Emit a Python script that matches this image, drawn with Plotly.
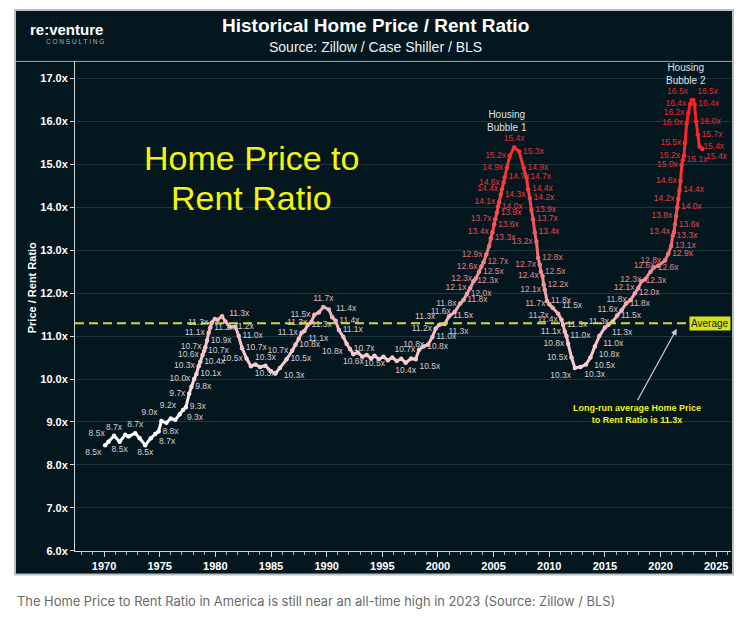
import plotly.graph_objects as go

# ---------------- data ----------------
YEARS = [
    1970.1, 1970.4, 1970.9, 1971.4, 1971.9, 1972.2, 1972.8, 1973.2, 1973.7, 1974.2,
    1974.6, 1974.9, 1975.15, 1975.6, 1976.0, 1976.4, 1976.8, 1977.1, 1977.35, 1977.65,
    1977.85, 1978.1, 1978.3, 1978.5, 1978.65, 1978.85, 1979.0, 1979.1, 1979.25, 1979.4,
    1979.55, 1979.7, 1979.95, 1980.2, 1980.6, 1980.9, 1981.3, 1981.8, 1982.1, 1982.4,
    1982.8, 1983.2, 1983.6, 1984.0, 1984.5, 1985.0, 1985.4, 1985.8, 1986.4, 1986.9,
    1987.2, 1987.5, 1987.75, 1988.0, 1988.3, 1988.6, 1988.9, 1989.3, 1989.7, 1990.2,
    1990.5, 1990.8, 1991.1, 1991.5, 1991.8, 1992.1, 1992.4, 1992.8, 1993.2, 1993.6,
    1994.0, 1994.3, 1994.7, 1995.1, 1995.5, 1995.9, 1996.3, 1996.7, 1997.1, 1997.6,
    1998.0, 1998.3, 1998.7, 1999.1, 1999.5, 1999.8, 2000.1, 2000.6, 2001.0, 2001.5,
    2002.0, 2002.3, 2002.6, 2002.9, 2003.2, 2003.4, 2003.7, 2003.9, 2004.1, 2004.35,
    2004.6, 2004.75, 2004.9, 2005.05, 2005.15, 2005.3, 2005.4, 2005.5, 2005.65, 2005.75,
    2005.9, 2006.0, 2006.2, 2006.45, 2006.85, 2007.3, 2007.7, 2007.95, 2008.1, 2008.25,
    2008.4, 2008.55, 2008.7, 2008.85, 2009.0, 2009.15, 2009.25, 2009.4, 2009.5, 2009.6,
    2009.8, 2010.0, 2010.3, 2010.8, 2011.1, 2011.25, 2011.4, 2011.55, 2011.7, 2012.0,
    2012.3, 2012.8, 2013.3, 2013.7, 2014.1, 2014.5, 2015.0, 2015.3, 2015.7, 2016.1,
    2016.5, 2016.9, 2017.3, 2017.7, 2018.0, 2018.3, 2018.6, 2019.1, 2019.4, 2019.8,
    2020.4, 2020.7, 2020.95, 2021.1, 2021.2, 2021.3, 2021.4, 2021.5, 2021.6, 2021.7,
    2021.8, 2021.9, 2022.0, 2022.1, 2022.2, 2022.35, 2022.5, 2022.65, 2022.8, 2022.95,
    2023.05, 2023.2, 2023.35, 2023.5, 2023.75,
]
RATIO = [
    8.46, 8.54, 8.68, 8.54, 8.70, 8.66, 8.74, 8.62, 8.46, 8.62,
    8.72, 8.78, 9.02, 8.98, 9.08, 9.05, 9.18, 9.28, 9.34, 9.66,
    9.82, 10.0, 10.12, 10.3, 10.4, 10.56, 10.66, 10.74, 10.9, 11.08,
    11.2, 11.32, 11.4, 11.38, 11.46, 11.34, 11.22, 11.22, 11.0, 10.72,
    10.48, 10.3, 10.34, 10.28, 10.31, 10.18, 10.13, 10.26, 10.46, 10.66,
    10.8, 10.94, 11.08, 11.12, 11.26, 11.32, 11.5, 11.55, 11.68, 11.62,
    11.44, 11.36, 11.14, 10.98, 10.82, 10.7, 10.58, 10.62, 10.52, 10.56,
    10.48, 10.54, 10.46, 10.52, 10.44, 10.5, 10.42, 10.47, 10.38, 10.48,
    10.46, 10.68, 10.76, 10.8, 10.98, 11.18, 11.26, 11.28, 11.46, 11.56,
    11.76, 11.84, 11.98, 12.12, 12.28, 12.34, 12.5, 12.62, 12.72, 12.9,
    13.1, 13.28, 13.42, 13.6, 13.72, 13.88, 14.02, 14.12, 14.3, 14.42,
    14.58, 14.7, 14.92, 15.2, 15.4, 15.3, 14.92, 14.7, 14.42, 14.22,
    13.94, 13.72, 13.42, 13.2, 12.82, 12.66, 12.5, 12.4, 12.2, 12.08,
    11.82, 11.74, 11.66, 11.52, 11.38, 11.26, 11.1, 11.0, 10.82, 10.5,
    10.26, 10.28, 10.34, 10.5, 10.76, 11.0, 11.2, 11.26, 11.34, 11.48,
    11.6, 11.76, 11.84, 12.0, 12.12, 12.28, 12.32, 12.5, 12.6, 12.64,
    12.76, 12.92, 13.1, 13.34, 13.42, 13.6, 13.8, 14.0, 14.2, 14.4,
    14.62, 14.98, 15.1, 15.2, 15.5, 15.96, 16.2, 16.4, 16.5, 16.5,
    16.4, 16.0, 15.7, 15.42, 15.36,
]
# where each point's value label sits ('' = no label shown)
LABEL_POS = [
    'bl', 'tl', 't', 'b', '', '', 't', '', 'b', '',
    'br', 'r', 'tl', '', '', '', 'tl', 'br', 'r', 'l',
    'r', 'l', 'r', 'l', 'r', 'l', 'r', 'l', 'r', 'l',
    'r', 'l', '', '', '', 'tr', 'r', '', 'r', 'r',
    'l', 'br', '', '', 't', '', '', 'br', 'r', 'l',
    'r', '', 'l', 'br', 'r', 'l', 'l', '', 't', '',
    'tr', 'r', 'r', '', 'bl', 'r', 'b', '', '', '',
    '', 'b', '', '', '', '', '', '', 'b', '',
    'br', 'l', 'r', 'l', 'r', 'l', 'tl', 'br', 'r', 'l',
    'l', 'r', 'r', 'l', 'r', 'l', 'r', 'l', 'r', 'l',
    '', 'r', 'l', 'r', 'l', 'r', 'r', 'l', 'r', 'l',
    'l', 'r', 'l', 'l', 't', 'r', 'r', 'r', 'r', 'r',
    'r', 'r', 'r', 'l', 'r', 'l', 'r', 'l', 'r', 'l',
    'r', 'l', 'bl', 'tr', 'l', 'r', 'l', 'r', 'l', 'l',
    'bl', 'br', '', 'br', 'br', 'br', '', 'br', 'l', 'r',
    'l', 'r', 'l', 'r', 'l', 'r', 'l', '', 'r', 'l',
    'l', 'r', 'r', 'r', 'l', 'r', 'l', 'r', 'l', 'r',
    'l', 'l', 'r', 'l', 'l', 'l', 'l', 'l', 'tl', 'tr',
    'r', 'r', 'r', 'r', 'br',
]
AVERAGE = 11.3
X_TICKS = [1970, 1975, 1980, 1985, 1990, 1995, 2000, 2005, 2010, 2015, 2020, 2025]
BUBBLES = [("Housing<br>Bubble 1", 2006.85, 15.4), ("Housing<br>Bubble 2", 2022.88, 16.5)]

TITLE = "Historical Home Price / Rent Ratio"
SUBTITLE = "Source: Zillow / Case Shiller / BLS"
CAPTION = "The Home Price to Rent Ratio in America is still near an all-time high in 2023 (Source: Zillow / BLS)"

# ---------------- styling helpers ----------------
W, H = 748, 634
BG = "#04171f"
FONT = "Liberation Sans, Arial, sans-serif"


def lerp_color(v, stops):
    if v <= stops[0][0]:
        c = stops[0][1]
    elif v >= stops[-1][0]:
        c = stops[-1][1]
    else:
        for (v0, c0), (v1, c1) in zip(stops[:-1], stops[1:]):
            if v0 <= v <= v1:
                t = (v - v0) / (v1 - v0)
                c = tuple(round(a + (b - a) * t) for a, b in zip(c0, c1))
                break
    return "rgb(%d,%d,%d)" % c


LINE_STOPS = [(8.8, (255, 255, 255)), (10.0, (250, 214, 218)), (11.5, (245, 182, 188)),
              (12.5, (242, 140, 146)), (13.5, (242, 88, 92)), (15.0, (250, 48, 48)), (16.6, (255, 28, 28))]
TEXT_STOPS = [(9.0, (208, 210, 214)), (11.5, (214, 200, 204)), (12.4, (226, 140, 150)),
              (13.5, (226, 72, 80)), (15.0, (232, 46, 50)), (16.6, (236, 36, 40))]

POS_MAP = {'l': 'middle left', 'r': 'middle right', 't': 'top center', 'b': 'bottom center',
           'tl': 'top left', 'tr': 'top right', 'bl': 'bottom left', 'br': 'bottom right', '': 'middle center'}

fig = go.Figure()

# gradient line: segments grouped by colour
groups = {}
for i in range(len(YEARS) - 1):
    col = lerp_color((RATIO[i] + RATIO[i + 1]) / 2, LINE_STOPS)
    xs, ys = groups.setdefault(col, ([], []))
    xs += [YEARS[i], YEARS[i + 1], None]
    ys += [RATIO[i], RATIO[i + 1], None]
for col, (xs, ys) in groups.items():
    fig.add_trace(go.Scatter(x=xs, y=ys, mode="lines", line=dict(color=col, width=3),
                             hoverinfo="skip", showlegend=False))

# points + value labels
fig.add_trace(go.Scatter(
    x=YEARS, y=RATIO, mode="markers+text",
    marker=dict(size=4.5, color=[lerp_color(v, LINE_STOPS) for v in RATIO]),
    text=[("%.1fx" % v) if p else "" for v, p in zip(RATIO, LABEL_POS)],
    textposition=[POS_MAP[p] for p in LABEL_POS],
    textfont=dict(family=FONT, size=8.5, color=[lerp_color(v, TEXT_STOPS) for v in RATIO]),
    showlegend=False, hoverinfo="x+y",
))

xd = [75 / W, 731 / W]
yd = [1 - 556 / H, 1 - 62 / H]

shapes = [
    # chart panel
    dict(type="rect", xref="paper", yref="paper", x0=15 / W, x1=733 / W, y0=1 - 580 / H, y1=1 - 10 / H,
         fillcolor=BG, line=dict(color="#b9c0c4", width=2), layer="below"),
    # header separator
    dict(type="line", xref="paper", yref="paper", x0=15 / W, x1=733 / W, y0=1 - 62 / H, y1=1 - 62 / H,
         line=dict(color="#9aa6ab", width=1), layer="below"),
    # average line
    dict(type="line", xref="x domain", yref="y", x0=0, x1=1, y0=AVERAGE, y1=AVERAGE,
         line=dict(color="#cfdc38", width=2, dash="9px,5px"), layer="above"),
]

annotations = [
    dict(text="<b>" + TITLE + "</b>", x=375 / W, y=1 - 26 / H, xref="paper", yref="paper",
         showarrow=False, font=dict(family=FONT, size=19, color="#ffffff"), xanchor="center", yanchor="middle"),
    dict(text=SUBTITLE, x=375 / W, y=1 - 47 / H, xref="paper", yref="paper",
         showarrow=False, font=dict(family=FONT, size=14, color="#eef2f4"), xanchor="center", yanchor="middle"),
    dict(text="<b>re:venture</b>", x=66 / W, y=1 - 30 / H, xref="paper", yref="paper",
         showarrow=False, font=dict(family=FONT, size=15, color="#ffffff"), xanchor="center", yanchor="middle"),
    dict(text="C O N S U L T I N G", x=75 / W, y=1 - 42 / H, xref="paper", yref="paper",
         showarrow=False, font=dict(family=FONT, size=6.5, color="#aab3b8"), xanchor="center", yanchor="middle"),
    dict(text="Home Price to", x=251 / W, y=1 - 160 / H, xref="paper", yref="paper",
         showarrow=False, font=dict(family=FONT, size=34, color="#f4f40c"), xanchor="center", yanchor="middle"),
    dict(text="Rent Ratio", x=251 / W, y=1 - 200 / H, xref="paper", yref="paper",
         showarrow=False, font=dict(family=FONT, size=34, color="#f4f40c"), xanchor="center", yanchor="middle"),
    dict(text="<b>Price / Rent Ratio</b>", x=32 / W, y=1 - 290 / H, xref="paper", yref="paper",
         showarrow=False, textangle=-90, font=dict(family=FONT, size=11, color="#ffffff"),
         xanchor="center", yanchor="middle"),
    dict(text="Average", x=731 / W, y=AVERAGE, xref="paper", yref="y", showarrow=False,
         xanchor="right", yanchor="middle", bgcolor="#d6e21c", borderpad=1,
         font=dict(family=FONT, size=10, color="#1b1b1b")),
    dict(text="", x=2021.45, y=11.17, xref="x", yref="y", showarrow=True, ax=-40, ay=73,
         arrowhead=2, arrowsize=1, arrowwidth=1.2, arrowcolor="#c9d3da"),
    dict(text="<b>Long-run average Home Price<br>to Rent Ratio is 11.3x</b>", x=637 / W, y=1 - 418 / H,
         xref="paper", yref="paper", showarrow=False, xanchor="center", yanchor="middle",
         font=dict(family=FONT, size=9, color="#eef01e")),
    dict(text=CAPTION, x=15 / W, y=1 - 607 / H, xref="paper", yref="paper", showarrow=False,
         xanchor="left", yanchor="middle", font=dict(family="Inter, Noto Sans, sans-serif", size=12.9, color="#6a6a6a")),
]
for txt, bx, by in BUBBLES:
    annotations.append(dict(text=txt, x=bx, y=by, xref="x", yref="y", showarrow=False,
                            xanchor="center", yanchor="bottom", yshift=12, xshift=-7,
                            font=dict(family=FONT, size=10, color="#dfe3e6")))

fig.update_layout(
    width=W, height=H, autosize=False,
    margin=dict(l=0, r=0, t=0, b=0),
    paper_bgcolor="#ffffff", plot_bgcolor="rgba(0,0,0,0)",
    shapes=shapes, annotations=annotations, showlegend=False,
    xaxis=dict(domain=xd, range=[1967.39, 2026.33], tickvals=X_TICKS, ticks="outside", ticklen=5,
               tickcolor="#d0d8dc", showline=True, linecolor="#d0d8dc", linewidth=1,
               showgrid=False, zeroline=False,
               tickfont=dict(family=FONT, size=11, color="#ffffff", weight="bold"),
               minor=dict(dtick=1, tick0=1970, ticks="outside", ticklen=3, tickcolor="#aab4b8", showgrid=False)),
    yaxis=dict(domain=yd, range=[6, 17.4], tick0=6, dtick=1, tickformat=".1f", ticksuffix="x",
               ticks="outside", ticklen=4, tickcolor="#d0d8dc", showline=True, linecolor="#d0d8dc",
               linewidth=1, showgrid=True, gridcolor="#1c3641", gridwidth=1, zeroline=False,
               tickfont=dict(family=FONT, size=11, color="#ffffff", weight="bold")),
)

fig.write_html("out.html", config={"displayModeBar": False},
               post_script="document.body.style.margin='0';document.body.style.overflow='hidden';")
